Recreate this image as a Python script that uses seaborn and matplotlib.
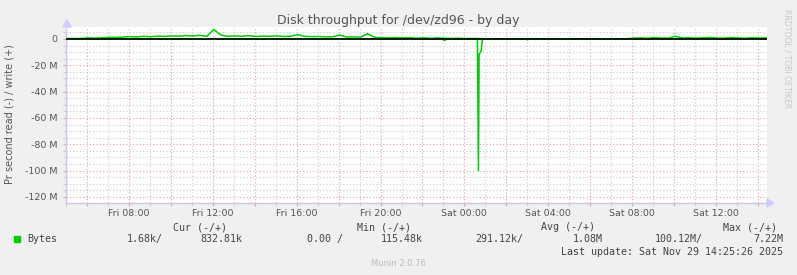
import numpy as np
import pandas as pd
import matplotlib
matplotlib.use("Agg")
import matplotlib.pyplot as plt
import seaborn as sns
from matplotlib.patches import Rectangle

# ---------------- data ----------------
title = "Disk throughput for /dev/zd96 - by day"
y_label = "Pr second read (-) / write (+)"

# write series, sampled every 20 min starting Fri 05:03 (hours since Fri 00:00)
write_start_hour = 5.05
write_mbps = [
    0.4, 0.3, 0.4, 0.8, 0.6, 0.9, 1.3, 1.2, 1.4, 1.8,
    1.6, 2.0, 1.7, 2.2, 1.9, 2.4, 2.1, 2.6, 2.3, 2.8,
    2.0, 7.2, 3.0, 2.0, 2.3, 2.1, 2.5, 1.9, 2.2, 2.0,
    2.4, 1.8, 2.1, 3.3, 2.0, 1.8, 1.9, 1.6, 1.7, 3.0,
    1.5, 1.6, 1.4, 4.0, 1.2, 1.0, 0.9, 1.1, 0.8, 1.0,
    0.5, 0.9, 0.4, 0.8, 0.5, 0.4, 0.5, 0.3, 0.4, 0.3,
    0.2, 0.15, 0.12, 0.2, 0.15, 0.12, 0.15, 0.2, 0.12, 0.15,
    0.12, 0.15, 0.2, 0.12, 0.15, 0.12, 0.15, 0.2, 0.12, 0.15,
    0.2, 0.6, 0.8, 0.5, 1.0, 0.7, 0.6, 2.0, 0.8, 1.0,
    0.6, 0.9, 1.2, 0.7, 0.6, 1.1, 0.8, 0.5, 0.9, 0.7,
    0.8,
]
write_hours = write_start_hour + np.arange(len(write_mbps)) / 3.0

# read series (negative), breakpoints
read_hours = [5.05, 22.95, 23.05, 23.15, 24.62, 24.67, 24.70, 24.76, 24.80,
              24.86, 24.95, 26.9, 27.0, 27.1, 38.43]
read_mbps = [0.0, 0.0, -1.2, 0.0, 0.0, -100.1, -12.0, -10.0, -9.0,
             -0.5, 0.0, 0.0, -0.6, 0.0, 0.0]

x_start, x_end = 5.05, 38.43
y_min, y_max = -124.6, 9.1

tick_hours = [8, 12, 16, 20, 24, 28, 32, 36]
tick_labels = ["Fri 08:00", "Fri 12:00", "Fri 16:00", "Fri 20:00",
               "Sat 00:00", "Sat 04:00", "Sat 08:00", "Sat 12:00"]
ytick_values = [0, -20, -40, -60, -80, -100, -120]
ytick_labels = ["0", "-20 M", "-40 M", "-60 M", "-80 M", "-100 M", "-120 M"]

legend_name = "Bytes"
cur_vals = ["1.68k/", "832.81k"]
min_vals = ["0.00 /", "115.48k"]
avg_vals = ["291.12k/", "1.08M"]
max_vals = ["100.12M/", "7.22M"]
last_update = "Last update: Sat Nov 29 14:25:26 2025"
series_color = "#00CC00"

# ---------------- figure ----------------
W, H = 797, 275
fig = plt.figure(figsize=(W / 100, H / 100), dpi=100, facecolor="#F0F0F0")
L, R, T, B = 66, 767, 27, 203
ax = fig.add_axes([L / W, 1 - B / H, (R - L) / W, (B - T) / H])
ax.set_facecolor("white")

def fy(py):
    return 1 - py / H

def fx(px):
    return px / W

# grid
minor_col = "#CCCCCC"
major_col = "#E8A0A0"
dot = (0, (1, 2))
ax.set_xlim(x_start, x_end)
ax.set_ylim(y_min, y_max)
ax.set_xticks(np.arange(6, 39, 2))
ax.set_xticks(np.arange(5, 39, 1), minor=True)
ax.set_yticks(np.arange(-120, 1, 20))
ax.set_yticks(np.arange(-120, 9, 5), minor=True)
ax.grid(which="minor", color=minor_col, linestyle=dot, linewidth=0.8)
ax.grid(which="major", color=major_col, linestyle=dot, linewidth=0.8)
ax.set_axisbelow(True)

def xfmt(v, pos):
    for h, lab in zip(tick_hours, tick_labels):
        if abs(v - h) < 1e-6:
            return lab
    return ""

ax.xaxis.set_major_formatter(plt.FuncFormatter(xfmt))
ax.set_yticks(ytick_values)
ax.set_yticklabels(ytick_labels)
ax.tick_params(axis="both", which="major", length=2, width=0.8, labelsize=6.8,
               labelcolor="#555555")
ax.tick_params(axis="x", which="major", colors=major_col, labelcolor="#555555", pad=2)
ax.tick_params(axis="y", which="major", colors=major_col, labelcolor="#555555", pad=4)
ax.tick_params(axis="both", which="minor", length=2, width=0.8, colors=minor_col)

for s in ["top", "right"]:
    ax.spines[s].set_visible(False)
for s in ["left", "bottom"]:
    ax.spines[s].set_color("#C8C8E8")
    ax.spines[s].set_linewidth(1.0)

# data lines
df_w = pd.DataFrame({"hour": write_hours, "value": write_mbps})
df_r = pd.DataFrame({"hour": read_hours, "value": read_mbps})
sns.lineplot(data=df_w, x="hour", y="value", ax=ax, color=series_color,
             linewidth=1.1, estimator=None, sort=False)
sns.lineplot(data=df_r, x="hour", y="value", ax=ax, color=series_color,
             linewidth=1.1, estimator=None, sort=False)
ax.axhline(0, color="black", linewidth=1.2, zorder=3)
ax.set_xlabel("")
ax.set_ylabel("")

# axis arrows
fig.patches.append(matplotlib.patches.Polygon(
    [[fx(63), fy(27)], [fx(71), fy(27)], [fx(67), fy(20)]],
    closed=True, transform=fig.transFigure, color="#CCCCFF"))
fig.patches.append(matplotlib.patches.Polygon(
    [[fx(767), fy(199)], [fx(767), fy(207)], [fx(774), fy(203)]],
    closed=True, transform=fig.transFigure, color="#CCCCFF"))

# texts
fig.text(fx(398), fy(24), title, ha="center", va="baseline",
         fontsize=9, color="#555555")
fig.text(fx(10), fy(114), y_label, rotation=90, ha="center", va="center",
         fontsize=7, color="#555555")
fig.text(fx(787), fy(59), "RRDTOOL / TOBI OETIKER", rotation=270,
         ha="center", va="center", fontsize=5.6, color="#C8C8C8")

mono = dict(family="DejaVu Sans Mono", fontsize=7.2, color="#444444")
hdr_y = fy(227)
fig.text(fx(173), hdr_y, "Cur (-/+)", ha="left", va="center", **mono)
fig.text(fx(357), hdr_y, "Min (-/+)", ha="left", va="center", **mono)
fig.text(fx(541), hdr_y, "Avg (-/+)", ha="left", va="center", **mono)
fig.text(fx(723), hdr_y, "Max (-/+)", ha="left", va="center", **mono)

row_y = fy(239)
fig.patches.append(Rectangle((fx(14), fy(242)), 6 / W, 6 / H,
                             transform=fig.transFigure, color=series_color))
fig.text(fx(27), row_y, legend_name, ha="left", va="center", **mono)
for right_px, txt in zip([163, 242, 343, 423, 523, 603, 703, 783],
                         cur_vals + min_vals + avg_vals + max_vals):
    fig.text(fx(right_px), row_y, txt, ha="right", va="center", **mono)
fig.text(fx(783), fy(252), last_update, ha="right", va="center", **mono)
fig.text(fx(398), fy(264), "Munin 2.0.76", ha="center", va="center",
         fontsize=6, color="#BBBBBB")

fig.savefig("out.png", dpi=100, facecolor=fig.get_facecolor())
